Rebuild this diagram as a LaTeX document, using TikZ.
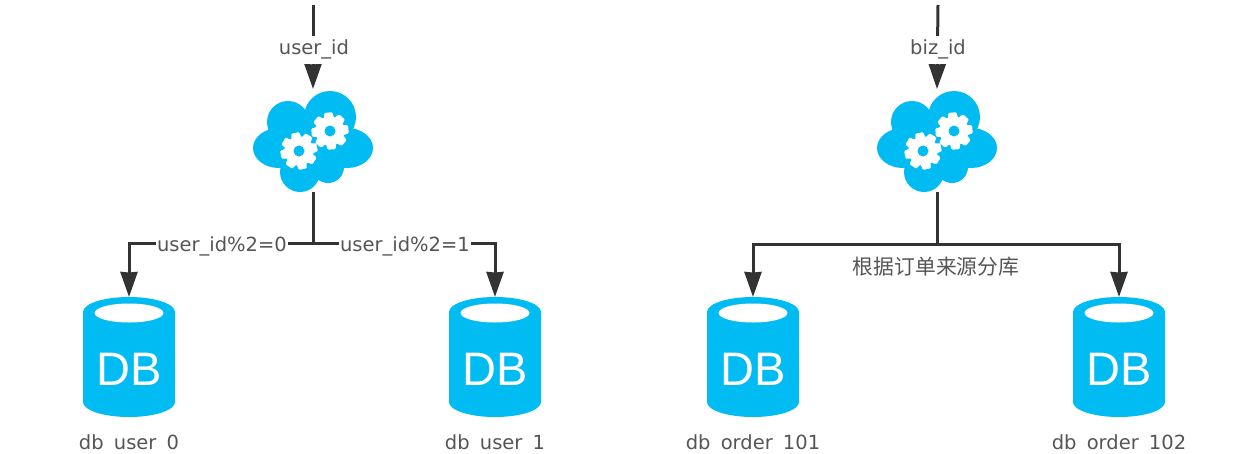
\documentclass[tikz,border=0pt]{standalone}
\usepackage{fontspec}
\setmainfont{DejaVu Sans}
\newfontfamily\dbfont{Liberation Sans}
\newfontfamily\cjkfont{Noto Sans CJK SC}
\usetikzlibrary{arrows.meta}
\definecolor{dbblue}{HTML}{00BCF2}
\definecolor{lineink}{HTML}{333333}
\definecolor{textink}{HTML}{555555}
\tikzset{
  x=1pt,y=-1pt,
  every node/.style={inner sep=0pt,outer sep=0pt},
  wire/.style={draw=lineink,line width=3pt},
  arrowwire/.style={wire,-{Stealth[length=25pt,width=17pt,inset=0.5pt]}},
  tag/.style={font=\fontsize{19.5}{22}\selectfont,text=textink,fill=white,inner xsep=1pt,inner ysep=1pt},
  vtag/.style={tag,minimum height=28pt},
  caption/.style={font=\fontsize{19.5}{22}\selectfont,text=textink},
  cjktag/.style={font=\cjkfont\fontsize{20.8}{24}\selectfont,text=textink},
  dbbox/.style={minimum width=92pt,minimum height=120pt},
  cloudbox/.style={minimum width=120pt,minimum height=103pt},
  dbtext/.style={font=\dbfont\fontsize{47}{50}\selectfont,text=white},
  pics/dbcyl/.style={code={
    \fill[dbblue] (-46,-45) arc[start angle=180,end angle=0,x radius=46pt,y radius=15pt]
      -- (46,45) arc[start angle=0,end angle=-180,x radius=46pt,y radius=15pt] -- cycle;
    \fill[white] (0,-44) ellipse[x radius=34.5pt,y radius=9.5pt];
  }},
  pics/gear/.style={code={
    \fill[white] (0,0) circle[radius=14.5pt];
    \foreach \a in {0,45,...,315}{
      \fill[white,rotate=\a+#1,rounded corners=1pt] (-5.5,-11) -- (-4,-18.5) -- (4,-18.5) -- (5.5,-11) -- cycle;
    }
    \fill[dbblue] (0,0) circle[radius=5.5pt];
  }},
  pics/cloudshape/.style={code={
    \fill[dbblue] (-34,7) ellipse[x radius=26pt,y radius=20pt]
      (34,7) ellipse[x radius=26pt,y radius=20pt]
      (-25,-19) circle[radius=21pt] (17,-24) circle[radius=26pt]
      (-13,31) circle[radius=20pt] (15,26) circle[radius=16pt]
      (0,3) circle[radius=27pt];
    \pic at (-14,10) {gear=12};
    \pic at (17,-10) {gear=5};
  }}
}
\begin{document}
\begin{tikzpicture}
\useasboundingbox (0,0) rectangle (1245,453);
% clouds
\pic at (313,141) {cloudshape};
\pic at (937,141) {cloudshape};
\node[cloudbox] (cloudA) at (313,140.5) {};
\node[cloudbox] (cloudB) at (937,140.5) {};
% databases
\foreach \x in {129,495,753,1119}{ \pic at (\x,357) {dbcyl}; }
\node[dbbox] (db0) at (129,357) {};
\node[dbbox] (db1) at (495,357) {};
\node[dbbox] (db2) at (753,357) {};
\node[dbbox] (db3) at (1119,357) {};
\node[dbtext] (t0) at (129,369) {DB};
\node[dbtext] (t1) at (495,369) {DB};
\node[dbtext] (t2) at (753,369) {DB};
\node[dbtext] (t3) at (1119,369) {DB};
\node[caption] (c0) at (129,442.5) {db\hspace{4pt} user\hspace{4pt} 0};
\node[caption] (c1) at (495,442.5) {db\hspace{4pt} user\hspace{4pt} 1};
\node[caption] (c2) at (753,442.5) {db\hspace{4pt} order\hspace{4pt} 101};
\node[caption] (c3) at (1119,442.5) {db\hspace{4pt} order\hspace{4pt} 102};
% free ends and junctions
\coordinate (inA) at (313,5);
\coordinate (inB) at (938,5);
\coordinate (jA) at (313,243);
\coordinate (jB) at (937,244);
% connectors
\draw[arrowwire] (inA) -- (cloudA.north);
\draw[arrowwire] (inB) -- (cloudB.north);
\node[vtag] (idA) at (314,49.5) {user\_id};
\node[vtag] (idB) at (938,49.5) {biz\_id};
\draw[wire] (cloudA.south) -- (jA);
\draw[wire] (cloudB.south) -- (jB);
\draw[arrowwire] (jA) -- (db0.north |- jA) -- (db0.north);
\draw[arrowwire] (jA) -- (db1.north |- jA) -- (db1.north);
\draw[arrowwire] (jB) -- (db2.north |- jB) -- (db2.north);
\draw[arrowwire] (jB) -- (db3.north |- jB) -- (db3.north);
\node[tag] (lab0) at (222,246) {user\_id\%2=0};
\node[tag] (lab1) at (405,246) {user\_id\%2=1};
\node[cjktag] (lab2) at (936,267) {根据订单来源分库};
\end{tikzpicture}
\end{document}
